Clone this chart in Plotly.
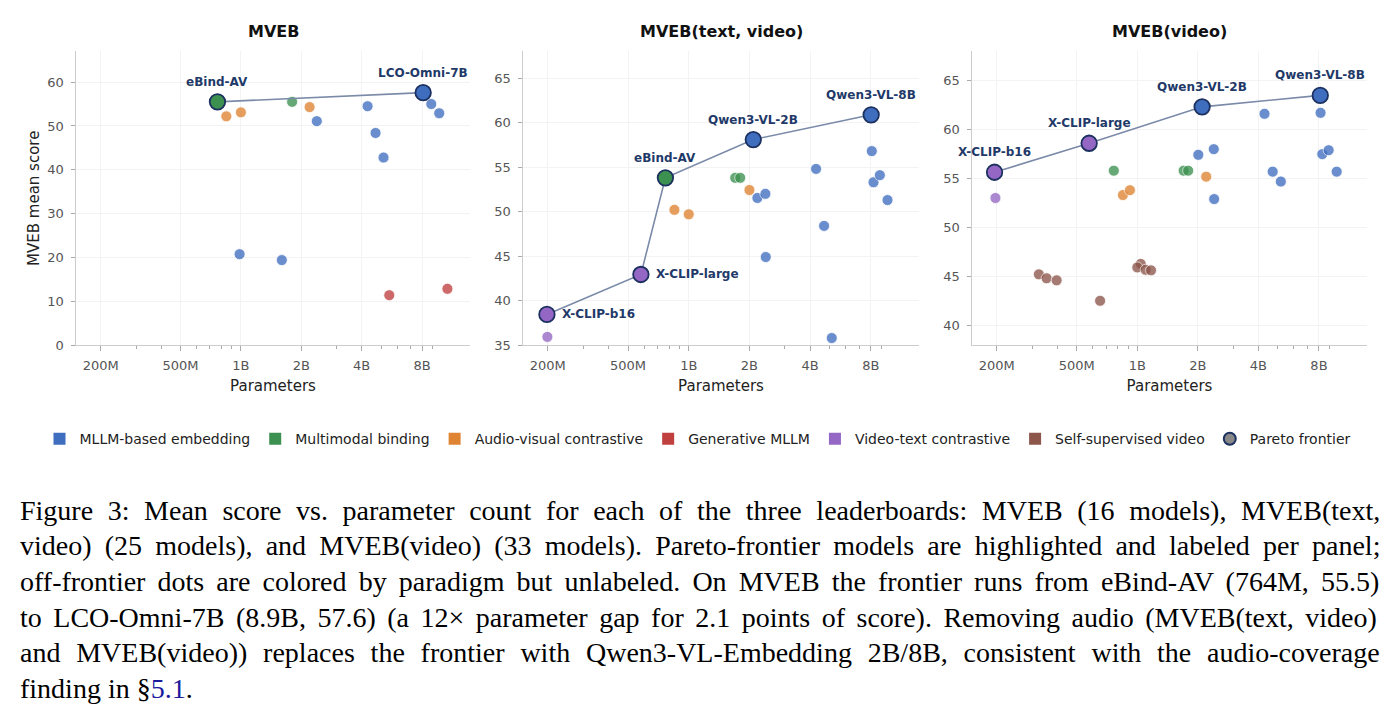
import numpy as np
import plotly.graph_objects as go

# ---------------- data ----------------
CATEGORIES = ["MLLM-based embedding", "Multimodal binding", "Audio-visual contrastive",
              "Generative MLLM", "Video-text contrastive", "Self-supervised video"]

PANEL_TITLES = ["MVEB", "MVEB(text, video)", "MVEB(video)"]

# Panel 1: MVEB (params in billions)
p1_params = [0.846, 1.0, 1.80, 2.2, 2.39, 4.28, 4.69, 5.14, 8.89, 9.74, 0.985, 1.6, 5.49, 10.7]
p1_scores = [52.2, 53.1, 55.5, 54.3, 51.1, 54.5, 48.4, 42.8, 55.0, 52.9, 20.75, 19.4, 11.4, 12.86]
p1_cats = ["Audio-visual contrastive", "Audio-visual contrastive", "Multimodal binding",
           "Audio-visual contrastive", "MLLM-based embedding", "MLLM-based embedding",
           "MLLM-based embedding", "MLLM-based embedding", "MLLM-based embedding",
           "MLLM-based embedding", "MLLM-based embedding", "MLLM-based embedding",
           "Generative MLLM", "Generative MLLM"]
p1_front_names = ["eBind-AV", "LCO-Omni-7B"]
p1_front_params = [0.764, 8.1]
p1_front_scores = [55.5, 57.6]
p1_front_cats = ["Multimodal binding", "MLLM-based embedding"]

# Panel 2: MVEB(text, video)
p2_params = [0.199, 0.849, 1.0, 1.70, 1.80, 2.0, 2.19, 2.40, 2.41, 4.28, 4.69, 5.12, 8.09, 8.25, 8.87, 9.68]
p2_scores = [35.93, 50.2, 49.7, 53.8, 53.8, 52.43, 51.54, 52.0, 44.9, 54.8, 48.4, 35.8, 56.8, 53.3, 54.1, 51.3]
p2_cats = ["Video-text contrastive", "Audio-visual contrastive", "Audio-visual contrastive",
           "Multimodal binding", "Multimodal binding", "Audio-visual contrastive",
           "MLLM-based embedding", "MLLM-based embedding", "MLLM-based embedding",
           "MLLM-based embedding", "MLLM-based embedding", "MLLM-based embedding",
           "MLLM-based embedding", "MLLM-based embedding", "MLLM-based embedding",
           "MLLM-based embedding"]
p2_front_names = ["X-CLIP-b16", "X-CLIP-large", "eBind-AV", "Qwen3-VL-2B", "Qwen3-VL-8B"]
p2_front_params = [0.198, 0.579, 0.766, 2.09, 8.03]
p2_front_scores = [38.45, 42.94, 53.8, 58.1, 60.88]
p2_front_cats = ["Video-text contrastive", "Video-text contrastive", "Multimodal binding",
                 "MLLM-based embedding", "MLLM-based embedding"]

# Panel 3: MVEB(video)
p3_params = [0.197, 0.764, 0.848, 0.919, 1.70, 1.79, 2.01, 2.40, 2.20, 2.41, 4.29, 4.71, 5.17,
             8.15, 8.31, 8.94, 9.80, 0.324, 0.354, 0.397, 0.653, 1.04, 1.0, 1.10, 1.17]
p3_scores = [53.03, 55.82, 53.33, 53.83, 55.82, 55.82, 57.44, 58.02, 55.21, 52.92, 61.63, 55.72, 54.71,
             61.73, 57.51, 57.91, 55.72, 45.23, 44.83, 44.62, 42.53, 46.3, 45.94, 45.70, 45.64]
p3_cats = ["Video-text contrastive", "Multimodal binding", "Audio-visual contrastive",
           "Audio-visual contrastive", "Multimodal binding", "Multimodal binding",
           "MLLM-based embedding", "MLLM-based embedding", "Audio-visual contrastive",
           "MLLM-based embedding", "MLLM-based embedding", "MLLM-based embedding",
           "MLLM-based embedding", "MLLM-based embedding", "MLLM-based embedding",
           "MLLM-based embedding", "MLLM-based embedding",
           "Self-supervised video", "Self-supervised video", "Self-supervised video",
           "Self-supervised video", "Self-supervised video", "Self-supervised video",
           "Self-supervised video", "Self-supervised video"]
p3_front_names = ["X-CLIP-b16", "X-CLIP-large", "Qwen3-VL-2B", "Qwen3-VL-8B"]
p3_front_params = [0.195, 0.576, 2.10, 8.12]
p3_front_scores = [55.66, 58.62, 62.34, 63.51]
p3_front_cats = ["Video-text contrastive", "Video-text contrastive",
                 "MLLM-based embedding", "MLLM-based embedding"]

X_TICK_VALUES = [2e8, 5e8, 1e9, 2e9, 4e9, 8e9]
X_TICK_LABELS = ["200M", "500M", "1B", "2B", "4B", "8B"]
X_MINOR_VALUES = [3e8, 4e8, 6e8, 7e8, 8e8, 9e8, 3e9, 5e9, 6e9, 7e9, 9e9]
Y_TICKS = [[0, 10, 20, 30, 40, 50, 60], [35, 40, 45, 50, 55, 60, 65], [40, 45, 50, 55, 60, 65]]

CAPTION_LINES = [
    "Figure 3: Mean score vs. parameter count for each of the three leaderboards: MVEB (16 models), MVEB(text,",
    "video) (25 models), and MVEB(video) (33 models). Pareto-frontier models are highlighted and labeled per panel;",
    "off-frontier dots are colored by paradigm but unlabeled. On MVEB the frontier runs from eBind-AV (764M, 55.5)",
    "to LCO-Omni-7B (8.9B, 57.6) (a 12\u00d7 parameter gap for 2.1 points of score). Removing audio (MVEB(text, video)",
    "and MVEB(video)) replaces the frontier with Qwen3-VL-Embedding 2B/8B, consistent with the audio-coverage",
    "finding in \u00a7<span style='color:#1a1a9c'>5.1</span>.",
]

# ---------------- style ----------------
W, H = 1396, 725
COLORS = {
    "MLLM-based embedding": "#3F6EBF",
    "Multimodal binding": "#3D9150",
    "Audio-visual contrastive": "#DF8433",
    "Generative MLLM": "#C0403F",
    "Video-text contrastive": "#9467C4",
    "Self-supervised video": "#8C564B",
}
NAVY = "#1C3160"
LABEL_COLOR = "#1F3A68"
LINE_COLOR = "#7A8AA8"

panel_x_px = [(76, 470), (523, 919), (972, 1367)]
panel_y_px = (52, 349)
y_ranges = [[0, 67], [35, 68], [38, 68]]
x_range = [8.178, 10.142]

label_right = {(1, "X-CLIP-b16"), (1, "X-CLIP-large")}
# extra word spacing (px) per caption line to imitate justified text
caption_word_spacing = [7.6, 6.2, 5.1, 4.5, 8.8, 0]

panels = [
    (p1_params, p1_scores, p1_cats, p1_front_names, p1_front_params, p1_front_scores, p1_front_cats),
    (p2_params, p2_scores, p2_cats, p2_front_names, p2_front_params, p2_front_scores, p2_front_cats),
    (p3_params, p3_scores, p3_cats, p3_front_names, p3_front_params, p3_front_scores, p3_front_cats),
]

fig = go.Figure()
annotations = []

for i, (pp, ps, pc, fn, fp, fs, fc) in enumerate(panels):
    xa = "x" if i == 0 else f"x{i+1}"
    ya = "y" if i == 0 else f"y{i+1}"
    xs = [v * 1e9 for v in pp]
    fig.add_trace(go.Scatter(
        x=xs, y=ps, mode="markers", xaxis=xa, yaxis=ya, showlegend=False, hoverinfo="skip",
        marker=dict(size=11, color=[COLORS[c] for c in pc], opacity=0.78,
                    line=dict(color="white", width=0.8)),
    ))
    fxs = [v * 1e9 for v in fp]
    fig.add_trace(go.Scatter(
        x=fxs, y=fs, mode="lines", xaxis=xa, yaxis=ya, showlegend=False, hoverinfo="skip",
        line=dict(color=LINE_COLOR, width=1.6),
    ))
    fig.add_trace(go.Scatter(
        x=fxs, y=fs, mode="markers", xaxis=xa, yaxis=ya, showlegend=False, hoverinfo="skip",
        marker=dict(size=15.5, color=[COLORS[c] for c in fc], opacity=1,
                    line=dict(color=NAVY, width=1.8)),
    ))
    for name, xv, yv in zip(fn, fxs, fs):
        if (i, name) in label_right:
            annotations.append(dict(x=np.log10(xv), y=yv, xref=xa, yref=ya, text=f"<b>{name}</b>",
                                    showarrow=False, xanchor="left", yanchor="middle", xshift=13,
                                    font=dict(family="DejaVu Sans", size=12, color=LABEL_COLOR)))
        else:
            annotations.append(dict(x=np.log10(xv), y=yv, xref=xa, yref=ya, text=f"<b>{name}</b>",
                                    showarrow=False, xanchor="center", yanchor="middle", yshift=20,
                                    font=dict(family="DejaVu Sans", size=12, color=LABEL_COLOR)))

    x0, x1 = panel_x_px[i]
    dom_x = [x0 / W, x1 / W]
    dom_y = [1 - panel_y_px[1] / H, 1 - panel_y_px[0] / H]
    axis_common = dict(showline=True, linecolor="#cccccc", linewidth=1, mirror=False,
                       ticks="outside", tickcolor="#aaaaaa", ticklen=4.5, tickwidth=1,
                       showgrid=True, gridcolor="#f3f3f3", gridwidth=1, zeroline=False,
                       ticklabelstandoff=4,
                       tickfont=dict(family="DejaVu Sans", size=13, color="#555555"))
    fig.update_layout(**{
        ("xaxis" if i == 0 else f"xaxis{i+1}"): dict(
            axis_common, domain=dom_x, anchor=ya, type="log", range=x_range,
            tickmode="array", tickvals=X_TICK_VALUES, ticktext=X_TICK_LABELS,
            minor=dict(tickmode="array", tickvals=X_MINOR_VALUES, ticks="outside", ticklen=2.5,
                       tickcolor="#aaaaaa", showgrid=False),
            title=dict(text="Parameters", standoff=8,
                       font=dict(family="DejaVu Sans", size=15, color="#222222")),
        ),
        ("yaxis" if i == 0 else f"yaxis{i+1}"): dict(
            axis_common, domain=dom_y, anchor=xa, range=y_ranges[i],
            tickmode="array", tickvals=Y_TICKS[i],
            title=dict(text="MVEB mean score" if i == 0 else "", standoff=4,
                       font=dict(family="DejaVu Sans", size=15, color="#222222")),
        ),
    })
    annotations.append(dict(x=(x0 + x1) / 2 / W, y=1 - 32 / H, xref="paper", yref="paper",
                            text=f"<b>{PANEL_TITLES[i]}</b>", showarrow=False,
                            xanchor="center", yanchor="middle",
                            font=dict(family="DejaVu Sans", size=16, color="#111111")))

# legend dummy traces
for c in CATEGORIES:
    fig.add_trace(go.Scatter(x=[None], y=[None], mode="markers", name=c,
                             marker=dict(symbol="square", size=12, color=COLORS[c])))
fig.add_trace(go.Scatter(x=[None], y=[None], mode="markers", name="Pareto frontier",
                         marker=dict(symbol="circle", size=13, color="#888888",
                                     line=dict(color=NAVY, width=1.8))))

# caption
for k, line in enumerate(CAPTION_LINES):
    center = 516 + 36 * k
    ws = caption_word_spacing[k]
    txt = f"<span style='word-spacing:{ws}px'>{line}</span>" if ws else line
    annotations.append(dict(x=18 / W, y=1 - center / H, xref="paper", yref="paper",
                            text=txt, showarrow=False, xanchor="left", yanchor="middle",
                            font=dict(family="Liberation Serif", size=28, color="#000000")))

fig.update_layout(
    width=W, height=H, margin=dict(l=0, r=0, t=0, b=0),
    paper_bgcolor="white", plot_bgcolor="white",
    annotations=annotations,
    legend=dict(orientation="h", x=0.5, xanchor="center", y=1 - 444 / H, yanchor="middle",
                font=dict(family="DejaVu Sans", size=14, color="#222222"),
                bgcolor="rgba(0,0,0,0)", itemsizing="constant"),
    font=dict(family="DejaVu Sans"),
)

fig.write_html("out.html")
